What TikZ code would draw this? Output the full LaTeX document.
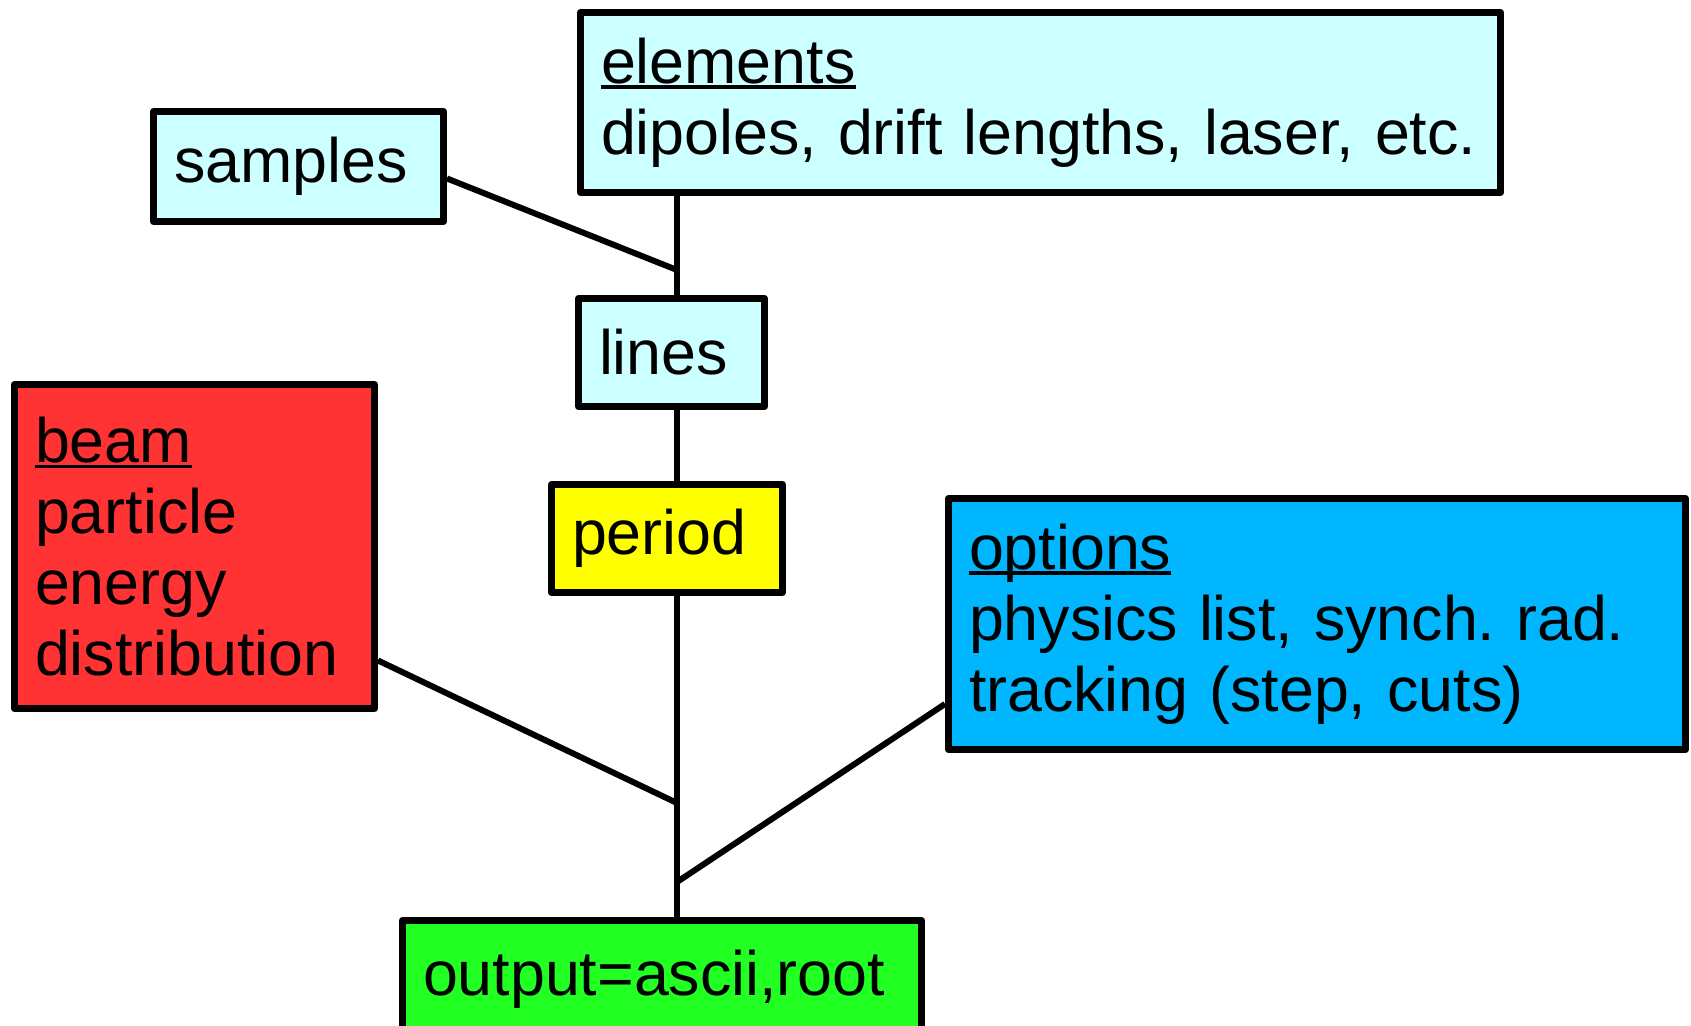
\documentclass[tikz,border=0pt]{standalone}
\usepackage{fontspec}
\setmainfont{Liberation Sans}
\usetikzlibrary{positioning}
\definecolor{boxcyan}{HTML}{CCFFFF}
\definecolor{boxred}{HTML}{FF3333}
\definecolor{boxyellow}{HTML}{FFFF00}
\definecolor{boxblue}{HTML}{00B6FF}
\definecolor{boxgreen}{HTML}{22FF22}
\newcommand{\headword}[1]{\setbox0=\hbox{#1}\rlap{\rule[-0.09em]{\wd0}{0.055em}}\box0}
\tikzset{
    box/.style = {rectangle, draw=black, line width=0.07cm, line join=round, anchor=north west,
                  align=left, inner xsep=0.205cm, inner ysep=0pt,
                  font=\fontsize{17.85pt}{20.2pt}\selectfont\frenchspacing},
    boxc/.style = {box, fill=boxcyan},
    boxr/.style = {box, fill=boxred},
    boxy/.style = {box, fill=boxyellow},
    boxb/.style = {box, fill=boxblue},
    boxg/.style = {box, fill=boxgreen},
    link/.style = {line width=0.06cm, draw=black}
}
\begin{document}
\begin{tikzpicture}
\useasboundingbox (0,0) rectangle (16.91,-10.26);
\node[boxc, minimum width=9.20cm, minimum height=1.80cm, text width=8.79cm] at (5.77,-0.09) (elements)
    {\headword{elements}\\\mbox{dipoles, drift lengths, laser, etc.}};
\node[boxc, minimum width=2.90cm, minimum height=1.10cm, text width=2.49cm] at (1.50,-1.08) (samples) {samples};
\node[boxc, minimum width=1.86cm, minimum height=1.08cm, text width=1.45cm] at (5.75,-2.95) (lines) {lines};
\node[boxr, minimum width=3.60cm, minimum height=3.24cm, text width=3.19cm] at (0.11,-3.81) (beam)
    {\headword{beam}\\particle\\energy\\distribution};
\node[boxy, minimum width=2.31cm, minimum height=1.08cm, text width=1.90cm] at (5.48,-4.81) (period) {period};
\node[boxb, minimum width=7.37cm, minimum height=2.51cm, text width=6.96cm] at (9.45,-4.95) (options)
    {\headword{options}\\\mbox{physics list, synch. rad.}\\tracking (step, cuts)};
\node[boxg, minimum width=5.19cm, minimum height=1.18cm, text width=4.78cm] at (3.99,-9.17) (output) {output=ascii,root};
%
\coordinate (trunk) at (6.77,0);
\coordinate (jsamples) at (6.77,-2.70);
\coordinate (jbeam) at (6.77,-8.03);
\coordinate (joptions) at (6.77,-8.82);
%
\draw[link] (elements.south -| trunk) -- (lines.north -| trunk);
\draw[link] (lines.south -| trunk) -- (period.north -| trunk);
\draw[link] (period.south -| trunk) -- (output.north -| trunk);
\draw[link] ([yshift=-0.12cm]samples.east) -- (jsamples);
\draw[link] ([yshift=-1.14cm]beam.east) -- (jbeam);
\draw[link] ([yshift=-0.80cm]options.west) -- (joptions);

\end{tikzpicture}
\end{document}
